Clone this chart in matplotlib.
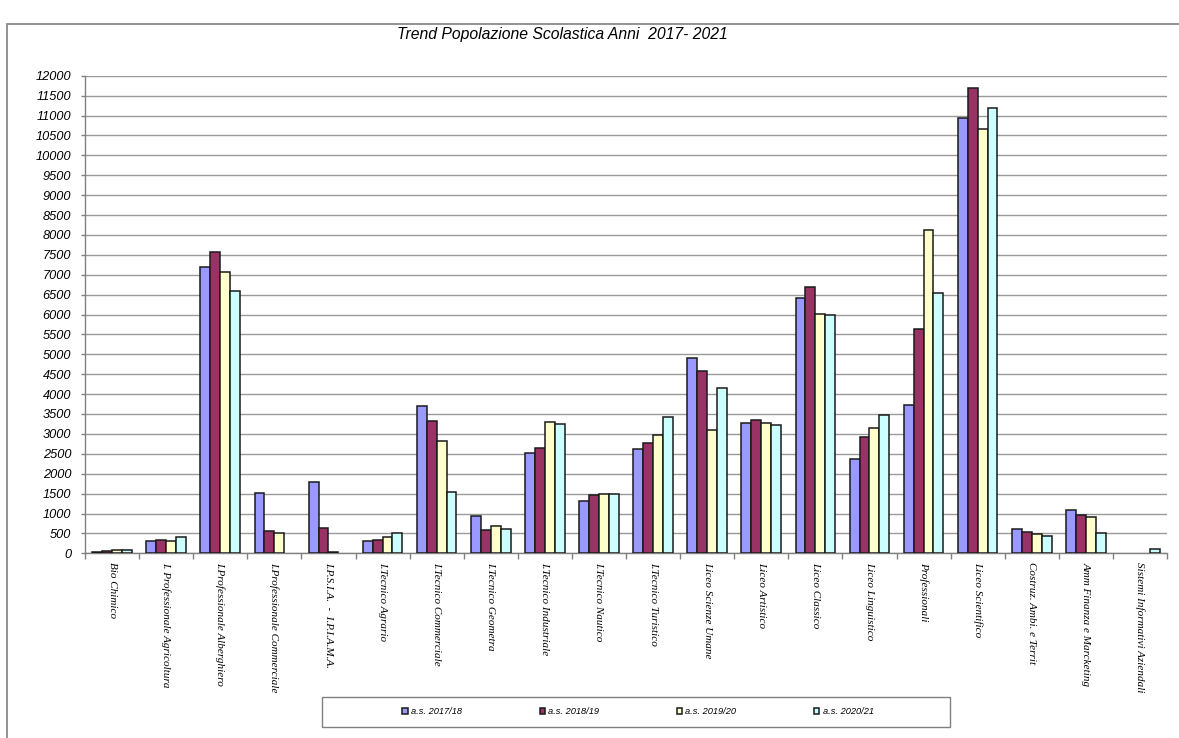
import numpy as np
import matplotlib
matplotlib.use("Agg")
import matplotlib.pyplot as plt
from matplotlib.patches import Rectangle

# School enrolment per institute type, four school years
categories = [
    "Bio Chimico",
    "I. Professionale Agricoltura",
    "I.Professionale Alberghiero",
    "I.Professionale Commerciale",
    "I.P.S.I.A.  -  I.P.I.A.M.A.",
    "I.Tecnico Agrario",
    "I.Tecnico Commerciale",
    "I.Tecnico Geometra",
    "I.Tecnico Industriale",
    "I.Tecnico Nautico",
    "I.Tecnico Turistico",
    "Liceo Scienze Umane",
    "Liceo Artistico",
    "Liceo Classico",
    "Liceo Linguistico",
    "Professionali",
    "Liceo Scientifico",
    "Costruz. Ambi. e Territ",
    "Amm Finanza e Marcketing",
    "Sistemi Informativi Aziendali",
]

series_names = ["a.s. 2017/18", "a.s. 2018/19", "a.s. 2019/20", "a.s. 2020/21"]

as_2017_18 = [25, 317, 7200, 1525, 1790, 317, 3690, 930, 2528, 1315,
              2620, 4915, 3282, 6415, 2362, 3726, 10930, 610, 1080, 0]
as_2018_19 = [55, 342, 7565, 560, 643, 342, 3324, 585, 2646, 1457,
              2771, 4580, 3349, 6691, 2915, 5636, 11690, 535, 955, 0]
as_2019_20 = [75, 310, 7068, 510, 45, 417, 2814, 686, 3291, 1498,
              2972, 3106, 3266, 6020, 3148, 8116, 10655, 485, 905, 0]
as_2020_21 = [90, 410, 6598, 0, 0, 518, 1540, 610, 3241, 1498,
              3417, 4146, 3224, 5980, 3483, 6540, 11196, 435, 518, 116]

series_values = [as_2017_18, as_2018_19, as_2019_20, as_2020_21]
colors = ["#9999FF", "#993366", "#FFFFCC", "#CCFFFF"]

y_ticks = list(range(0, 12001, 500))

fig = plt.figure(figsize=(11.79, 7.38), dpi=100)
fig.patch.set_facecolor("white")

ax = fig.add_axes([85 / 1179, 1 - 553.3 / 738, (1167 - 85) / 1179, (553.3 - 75.7) / 738])

n = len(categories)
x = np.arange(n)
bar_w = 0.183
handles = []
for k, (vals, col, name) in enumerate(zip(series_values, colors, series_names)):
    offs = (k - 1.5) * bar_w
    b = ax.bar(x + offs, vals, width=bar_w, color=col, edgecolor="#1a1a1a",
               linewidth=1.1, label=name, zorder=3)
    # empty years leave no outline on the axis
    for patch, v in zip(b.patches, vals):
        if v == 0:
            patch.set_visible(False)
    handles.append(b)

ax.set_xlim(-0.5, n - 0.5)
ax.set_ylim(0, 12000)
ax.set_yticks(y_ticks)
ax.set_yticklabels([str(v) for v in y_ticks], fontsize=9.2, style="italic",
                   family="Liberation Sans")
ax.yaxis.grid(True, color="#9a9a9a", linewidth=1.0, zorder=0)
ax.set_axisbelow(True)

# category boundaries carry the ticks, labels sit at the centres
ax.set_xticks(np.arange(n + 1) - 0.5)
ax.set_xticklabels([])
ax.set_xticks(x, minor=True)
ax.set_xticklabels(categories, minor=True, rotation=270, fontsize=8,
                   style="italic", family="Liberation Serif",
                   va="top", ha="center")
ax.tick_params(axis="x", which="major", length=4, color="#808080", width=1)
ax.tick_params(axis="x", which="minor", length=0, pad=6)
ax.tick_params(axis="y", length=3, color="#808080", width=1, pad=7)

for s in ("top", "right"):
    ax.spines[s].set_visible(False)
for s in ("left", "bottom"):
    ax.spines[s].set_color("#808080")
    ax.spines[s].set_linewidth(1.0)

fig.text(562 / 1179, 1 - 35 / 738, "Trend Popolazione Scolastica Anni  2017- 2021",
         ha="center", va="center", fontsize=11.3, style="italic",
         family="Liberation Sans")

# outer chart frame
fig.patches.append(Rectangle((7.3 / 1179, -0.02), 1.05, 1 - 24 / 738 + 0.02,
                             transform=fig.transFigure, fill=False,
                             edgecolor="#8a8a8a", linewidth=1.3, clip_on=False))

# legend frame
fig.patches.append(Rectangle((321.7 / 1179, 1 - 727 / 738), (950 - 321.7) / 1179,
                             30 / 738, transform=fig.transFigure, fill=False,
                             edgecolor="#808080", linewidth=1.0))

fig.legend(handles=handles, labels=series_names, ncol=4, frameon=False,
           loc="center", bbox_to_anchor=(638 / 1179, 1 - 712 / 738),
           prop={"family": "Liberation Sans", "style": "italic", "size": 6.7},
           handlelength=0.6, handleheight=0.6, handletextpad=0.35,
           columnspacing=8.3, borderpad=0)

fig.savefig("out.png", dpi=100, facecolor="white")
